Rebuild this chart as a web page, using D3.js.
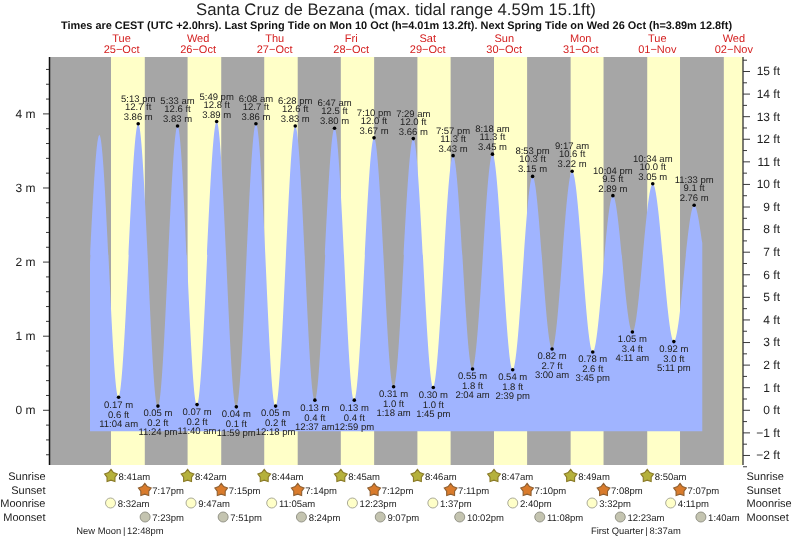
<!DOCTYPE html>
<html><head><meta charset="utf-8">
<script src="https://cdn.jsdelivr.net/npm/d3@7/dist/d3.min.js"></script>
<style>html,body{margin:0;padding:0;background:#fff}svg{display:block;filter:blur(0.35px);text-rendering:geometricPrecision}text{font-family:"Liberation Sans",Arial,sans-serif;fill:#222}</style>
</head><body><svg id="c" width="793" height="539"></svg>
<script>
const titleText = "Santa Cruz de Bezana (max. tidal range 4.59m 15.1ft)";
const subtitleText = "Times are CEST (UTC +2.0hrs). Last Spring Tide on Mon 10 Oct (h=4.01m 13.2ft). Next Spring Tide on Wed 26 Oct (h=3.89m 12.8ft)";
const dayDates = ["10-25","10-26","10-27","10-28","10-29","10-30","10-31","11-01","11-02"];
const dayNames = ["Tue","Wed","Thu","Fri","Sat","Sun","Mon","Tue","Wed"];
const dayLabels = ["25−Oct","26−Oct","27−Oct","28−Oct","29−Oct","30−Oct","31−Oct","01−Nov","02−Nov"];
const sunriseDates = dayDates;
const sunriseTimes = ["8:41am","8:42am","8:44am","8:45am","8:46am","8:47am","8:49am","8:50am","8:51am"];
const sunsetDates = dayDates.slice(0,8);
const sunsetTimes = ["7:17pm","7:15pm","7:14pm","7:12pm","7:11pm","7:10pm","7:08pm","7:07pm"];
const moonriseDates = ["10-25","10-26","10-27","10-28","10-29","10-30","10-31","11-01"];
const moonriseTimes = ["8:32am","9:47am","11:05am","12:23pm","1:37pm","2:40pm","3:32pm","4:11pm"];
const moonsetDates = ["10-25","10-26","10-27","10-28","10-29","10-30","11-01","11-02"];
const moonsetTimes = ["7:23pm","7:51pm","8:24pm","9:07pm","10:02pm","11:08pm","12:23am","1:40am"];
const phaseNames = ["New Moon","First Quarter"];
const phaseDates = ["10-25","11-01"];
const phaseTimes = ["12:48pm","8:37am"];
// curve ends and first high (no label in the source)
const curveStartDate = "10-25", curveStartTime = "2:06am", curveStartM = 1.98;
const firstHighDate = "10-25", firstHighTime = "5:02am", firstHighM = 3.71;
const curveEndDate = "11-02", curveEndTime = "2:06am", curveEndM = 2.25;
const tideDates = ["10-25","10-25","10-25","10-26","10-26","10-26","10-26","10-27","10-27","10-27","10-28","10-28","10-28","10-28","10-29","10-29","10-29","10-29","10-30","10-30","10-30","10-30","10-31","10-31","10-31","10-31","11-01","11-01","11-01","11-01"];
const tideTimes = ["11:04am","5:13pm","11:24pm","5:33am","11:40am","5:49pm","11:59pm","6:08am","12:18pm","6:28pm","12:37am","6:47am","12:59pm","7:10pm","1:18am","7:29am","1:45pm","7:57pm","2:04am","8:18am","2:39pm","8:53pm","3:00am","9:17am","3:45pm","10:04pm","4:11am","10:34am","5:11pm","11:33pm"];
const tideMetres = [0.17,3.86,0.05,3.83,0.07,3.89,0.04,3.86,0.05,3.83,0.13,3.80,0.13,3.67,0.31,3.66,0.30,3.43,0.55,3.45,0.54,3.15,0.82,3.22,0.78,2.89,1.05,3.05,0.92,2.76];
const tideFeet = ["0.6","12.7","0.2","12.6","0.2","12.8","0.1","12.7","0.2","12.6","0.4","12.5","0.4","12.0","1.0","12.0","1.0","11.3","1.8","11.3","1.8","10.3","2.7","10.6","2.6","9.5","3.4","10.0","3.0","9.1"];
const areaBaseM = -0.29;
const metreTicks = [0,1,2,3,4];
const metreMinor = [-0.6,-0.4,-0.2,0.2,0.4,0.6,0.8,1.2,1.4,1.6,1.8,2.2,2.4,2.6,2.8,3.2,3.4,3.6,3.8,4.2,4.4,4.6];
const feetTicks = [-2,-1,0,1,2,3,4,5,6,7,8,9,10,11,12,13,14,15];
const feetMinor = [-2.5,-1.5,-0.5,0.5,1.5,2.5,3.5,4.5,5.5,6.5,7.5,8.5,9.5,10.5,11.5,12.5,13.5,14.5,15.5];
const rowNames = ["Sunrise","Sunset","Moonrise","Moonset"];

const parse = d3.utcParse("%Y-%m-%d %I:%M%p");
const T = (d,t) => parse("2022-"+d+" "+t);
const svg = d3.select("#c");
const L=49.5,R=743,TOP=57,BOT=465;
const x = d3.scaleUtc().domain([T("10-24","1:24pm"),T("11-02","2:52pm")]).range([L,R]);
const y = d3.scaleLinear().domain([-0.745,4.761]).range([BOT,TOP]);
const yFt = d3.scaleLinear().domain([-0.745*3.28084,4.761*3.28084]).range([BOT,TOP]);

svg.append("rect").attr("x",L).attr("y",TOP).attr("width",R-L).attr("height",BOT-TOP).attr("fill","#a6a6a6");
svg.selectAll(".day").data(sunriseDates).join("rect").attr("class","day")
  .attr("x",(d,i)=>x(T(d,sunriseTimes[i]))).attr("y",TOP)
  .attr("width",(d,i)=>(i<sunsetTimes.length?x(T(sunsetDates[i],sunsetTimes[i])):R)-x(T(d,sunriseTimes[i])))
  .attr("height",BOT-TOP).attr("fill","#ffffc8");

const tide = [{t:T(curveStartDate,curveStartTime),m:curveStartM},{t:T(firstHighDate,firstHighTime),m:firstHighM}]
  .concat(tideDates.map((d,i)=>({t:T(d,tideTimes[i]),m:tideMetres[i],ft:tideFeet[i],lab:tideTimes[i]})))
  .concat([{t:T(curveEndDate,curveEndTime),m:curveEndM}]);
svg.append("path").datum(tide).attr("fill","#a0b4ff")
  .attr("d",d3.area().curve(d3.curveMonotoneX).x(d=>x(d.t)).y0(y(areaBaseM)).y1(d=>y(d.m)));

function styleAxis(g){g.selectAll("text").attr("font-size",12).style("font-family",'"Liberation Sans",Arial,sans-serif').attr("fill","#222");
  g.selectAll("line").attr("stroke","#222").attr("stroke-width",0.9);g.select(".domain").remove();}
const axL=svg.append("g").attr("transform",`translate(${L},0)`);
axL.append("g").call(d3.axisLeft(y).tickValues(metreMinor).tickSize(3.5).tickFormat("")).call(styleAxis);
axL.append("g").call(d3.axisLeft(y).tickValues(metreTicks).tickSize(6.5).tickPadding(7.5).tickFormat(d=>d+" m")).call(styleAxis);
const axR=svg.append("g").attr("transform",`translate(${R},0)`);
axR.append("g").call(d3.axisRight(yFt).tickValues(feetMinor).tickSize(4).tickFormat("")).call(styleAxis);
const rAxis=axR.append("g").call(d3.axisRight(yFt).tickValues(feetTicks).tickSize(7).tickPadding(8).tickFormat(d=>(d<0?"−"+(-d):d)+" ft")).call(styleAxis);
rAxis.selectAll("text").attr("text-anchor","end").attr("x",37);
svg.append("line").attr("x1",L).attr("x2",L).attr("y1",TOP).attr("y2",BOT).attr("stroke","#111").attr("stroke-width",1.5);
svg.append("line").attr("x1",R).attr("x2",R).attr("y1",TOP).attr("y2",BOT).attr("stroke","#333").attr("stroke-width",1.3);

const labelled = tide.filter(d=>d.lab);
svg.selectAll(".dot").data(labelled).join("circle").attr("class","dot").attr("cx",d=>x(d.t)).attr("cy",d=>y(d.m)).attr("r",1.8).attr("fill","#000");
const fmtLab = s=>s.replace(/(am|pm)$/," $1");
const tl = svg.append("g").attr("font-size",9.5).attr("text-anchor","middle");
labelled.forEach(d=>{
  const cx=x(d.t),cy=y(d.m),hi=d.m>2;
  const rows=[d.m.toFixed(2)+" m",d.ft+" ft",fmtLab(d.lab)];
  const off=hi?[-4,-14,-22]:[10.4,20.4,29.4];
  rows.forEach((r,k)=>tl.append("text").attr("x",cx).attr("y",cy+off[k]).text(r));
});

svg.append("text").attr("x",396).attr("y",14.5).attr("text-anchor","middle").attr("font-size",16.7).text(titleText);
svg.append("text").attr("x",396.5).attr("y",28.7).attr("text-anchor","middle").attr("font-size",10.95).attr("font-weight","bold").style("fill","#111").text(subtitleText);
dayDates.forEach((d,i)=>{
  const cx=x(T(d,"12:00pm"));
  svg.append("text").attr("x",cx).attr("y",41.5).attr("text-anchor","middle").attr("font-size",11).style("fill","#d42020").text(dayNames[i]);
  svg.append("text").attr("x",cx).attr("y",53).attr("text-anchor","middle").attr("font-size",11).style("fill","#d42020").text(dayLabels[i]);
});

const rowY=[480,494,507,521];
rowNames.forEach((n,i)=>{
  svg.append("text").attr("x",45.5).attr("y",rowY[i]).attr("text-anchor","end").attr("font-size",11).text(n);
  svg.append("text").attr("x",746.5).attr("y",rowY[i]).attr("font-size",11).text(n);
});
const starRadii = [6.7,4.2];
const star = d3.lineRadial().radius((d,i)=>starRadii[i%2]).angle((d,i)=>i*Math.PI/5).curve(d3.curveLinearClosed)(d3.range(10));
function events(dates,times,i,draw,dx){
  dates.forEach((d,k)=>{
    const px=x(T(d,times[k]));
    draw(svg.append("g").attr("transform",`translate(${px},${rowY[i]-4})`));
    svg.append("text").attr("x",px+dx).attr("y",rowY[i]-0.3).attr("font-size",9.5).text(times[k]);
  });
}
events(sunriseDates.slice(0,8),sunriseTimes,0,g=>g.append("path").attr("d",star).attr("fill","#b5b13c").attr("stroke","#8a7a28").attr("stroke-width",1.1),7.5);
events(sunsetDates,sunsetTimes,1,g=>g.append("path").attr("d",star).attr("fill","#d97b2c").attr("stroke","#8f6032").attr("stroke-width",1.1),7.5);
events(moonriseDates,moonriseTimes,2,g=>g.append("circle").attr("r",5).attr("fill","#ffffc8").attr("stroke","#a0a090").attr("stroke-width",0.9),7.2);
events(moonsetDates,moonsetTimes,3,g=>g.append("circle").attr("r",5).attr("fill","#c4c4b0").attr("stroke","#8c8c80").attr("stroke-width",0.9),7.2);
phaseNames.forEach((n,i)=>{
  const px=x(T(phaseDates[i],phaseTimes[i]));
  svg.append("text").attr("x",px-3).attr("y",534).attr("text-anchor","end").attr("font-size",9.4).text(n);
  svg.append("text").attr("x",px).attr("y",534).attr("text-anchor","middle").attr("font-size",9.4).text("|");
  svg.append("text").attr("x",px+3).attr("y",534).attr("font-size",9.4).text(phaseTimes[i]);
});
</script></body></html>
